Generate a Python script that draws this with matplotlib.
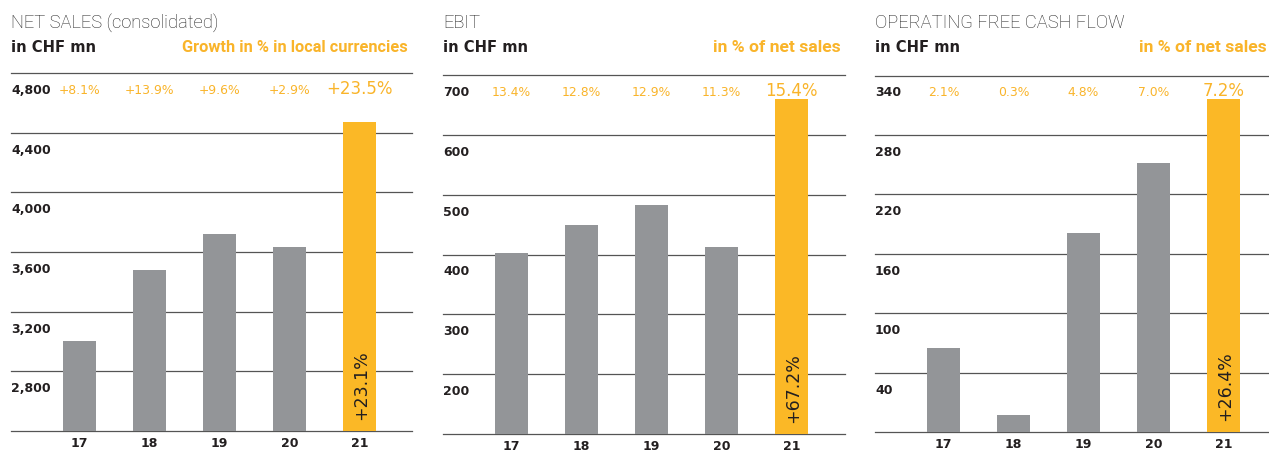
import matplotlib
matplotlib.use("Agg")
import matplotlib.pyplot as plt
import matplotlib.transforms as mtrans

# ---------------- data ----------------
years = ["17", "18", "19", "20", "21"]

net_sales = [3002, 3482, 3722, 3635, 4469]
net_sales_growth = ["+8.1%", "+13.9%", "+9.6%", "+2.9%", "+23.5%"]
net_sales_change = "+23.1%"
net_sales_ticks = [2800, 3200, 3600, 4000, 4400, 4800]
net_sales_ylim = [2400, 4800]

ebit = [402, 449, 483, 412, 660]
ebit_margin = ["13.4%", "12.8%", "12.9%", "11.3%", "15.4%"]
ebit_change = "+67.2%"
ebit_ticks = [200, 300, 400, 500, 600, 700]
ebit_ylim = [100, 700]

ofcf = [65, -3, 181, 252, 316]
ofcf_margin = ["2.1%", "0.3%", "4.8%", "7.0%", "7.2%"]
ofcf_change = "+26.4%"
ofcf_ticks = [40, 100, 160, 220, 280, 340]
ofcf_ylim = [-20, 340]

titles = ["NET SALES (consolidated)", "EBIT", "OPERATING FREE CASH FLOW"]
units = ["in CHF mn", "in CHF mn", "in CHF mn"]
subtitles = ["Growth in % in local currencies", "in % of net sales", "in % of net sales"]

# ---------------- style ----------------
W, H = 1269, 452
GRAY = "#939598"
YELLOW = "#FBB826"
ORANGE = "#F9B42A"
DARK = "#231F20"
GRID = "#555555"
NUM_FONT = "DejaVu Sans"
TXT_FONT = "Roboto"

fig = plt.figure(figsize=(W / 100, H / 100), dpi=100)

def px(x, y):
    return x / W, 1 - y / H

panels = [
    dict(x0=11, x1=412, ytop=74, ybot=432, vals=net_sales, labels=net_sales_growth,
         change=net_sales_change, ticks=net_sales_ticks, ylim=net_sales_ylim,
         fmt=lambda v: f"{v:,}", subsize=11.8, subright=408),
    dict(x0=443, x1=845, ytop=76, ybot=435, vals=ebit, labels=ebit_margin,
         change=ebit_change, ticks=ebit_ticks, ylim=ebit_ylim,
         fmt=lambda v: f"{v}", subsize=12.6, subright=841),
    dict(x0=875, x1=1276, ytop=76.5, ybot=433, vals=ofcf, labels=ofcf_margin,
         change=ofcf_change, ticks=ofcf_ticks, ylim=ofcf_ylim,
         fmt=lambda v: f"{v}", subsize=12.6, subright=1267),
]

spacing = 70.0
first_center = 68.5

for k, p in enumerate(panels):
    w = p["x1"] - p["x0"]
    left, top = px(p["x0"], p["ytop"])
    _, bottom = px(p["x0"], p["ybot"])
    ax = fig.add_axes([left, bottom, w / W, top - bottom])

    xs = list(range(len(years)))
    colors = [GRAY] * (len(years) - 1) + [YELLOW]
    ax.bar(xs, [v - p["ylim"][0] for v in p["vals"]], bottom=p["ylim"][0],
           width=33 / spacing, color=colors, zorder=2, linewidth=0)

    ax.set_xlim(-first_center / spacing, (w - first_center) / spacing)
    ax.set_ylim(*p["ylim"])

    # gridlines
    for t in [p["ylim"][0]] + p["ticks"]:
        ax.axhline(t, color=GRID, lw=0.9, zorder=1, clip_on=False)

    for s in ax.spines.values():
        s.set_visible(False)

    # y tick labels below their gridlines, inside the plot
    ax.set_yticks(p["ticks"])
    ax.set_yticklabels([p["fmt"](t) for t in p["ticks"]])
    ax.tick_params(axis="y", length=0, pad=0)
    off = mtrans.ScaledTranslation(0, -20 / 100, fig.dpi_scale_trans)
    for lab in ax.get_yticklabels():
        lab.set_horizontalalignment("left")
        lab.set_verticalalignment("baseline")
        lab.set_fontfamily(NUM_FONT)
        lab.set_fontweight("bold")
        lab.set_fontsize(9)
        lab.set_color(DARK)
        lab.set_transform(lab.get_transform() + off)

    ax.set_xticks(xs)
    ax.set_xticklabels(years, fontfamily=NUM_FONT, fontweight="bold",
                       fontsize=9, color=DARK)
    ax.tick_params(axis="x", length=0, pad=3.5)

    # percentage labels at top
    for i, lab in enumerate(p["labels"]):
        big = i == len(p["labels"]) - 1
        ax.annotate(lab, xy=(i, p["ylim"][1]), xytext=(0, -20 * 0.72),
                    textcoords="offset points", ha="center", va="baseline",
                    fontfamily=NUM_FONT, fontsize=12 if big else 8.9,
                    color=ORANGE, fontweight="normal", zorder=3,
                    annotation_clip=False)

    # change label inside last bar
    last = len(years) - 1
    ax.annotate(p["change"], xy=(last, p["ylim"][0]), xytext=(1.5, 12 * 0.72),
                textcoords="offset points", ha="center", va="bottom",
                rotation=90, fontfamily=NUM_FONT, fontsize=12.5, color=DARK,
                zorder=4)

    # titles
    tx, ty = px(p["x0"], 27.8)
    fig.text(tx, ty, titles[k], fontfamily=TXT_FONT, fontweight="light",
             fontsize=13.2, color="#222222", ha="left", va="baseline")
    ux, uy = px(p["x0"], 52)
    fig.text(ux, uy, units[k], fontfamily=NUM_FONT, fontweight="bold",
             fontsize=10.6, color=DARK, ha="left", va="baseline")
    sx, sy = px(p["subright"], 52)
    fig.text(sx, sy, subtitles[k], fontfamily=TXT_FONT, fontweight="bold",
             fontsize=p["subsize"], color=ORANGE, ha="right", va="baseline")

fig.savefig("out.png", dpi=100)
